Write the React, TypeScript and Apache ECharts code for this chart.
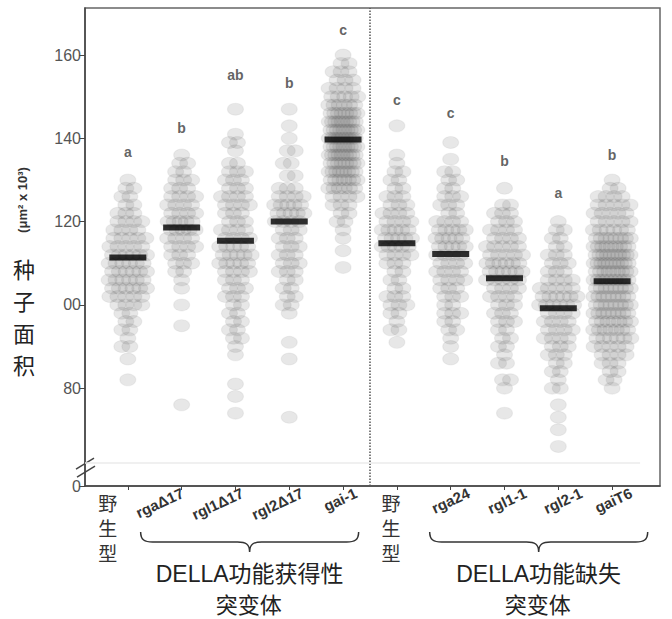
import React, { useEffect, useRef } from "react";
import * as echarts from "echarts";

// ---------- data ----------
const CATEGORIES = ["野生型", "rgaΔ17", "rgl1Δ17", "rgl2Δ17", "gai-1", "野生型", "rga24", "rgl1-1", "rgl2-1", "gaiT6"];
const MEANS = [111.4, 118.6, 115.4, 120.0, 139.7, 114.8, 112.2, 106.4, 99.2, 105.7];
const LETTERS = ["a", "b", "ab", "b", "c", "c", "c", "b", "a", "b"];
const LETTER_Y = [136.8, 142.4, 155.3, 153.4, 166, 149.3, 146, 134.6, 126.8, 136.1];
const Y_TICK_VALUES = [56.5, 80, 100, 120, 140, 160];
const Y_TICK_LABELS = ["0", "80", "00", "120", "140", "160"];
const GROUP_LEFT_TITLE = ["DELLA功能获得性", "突变体"];
const GROUP_RIGHT_TITLE = ["DELLA功能缺失", "突变体"];
const Y_TITLE_UNIT = "(μm² x 10³)";
const Y_TITLE = "种子面积";

// each row: [seed area, number of seeds at that level]
const WT_A: [number, number][] = [[130,1],[128,2],[126,2],[124,2],[122,3],[120,4],[118,4],[116,5],[114,5],[112,6],[110,6],[108,6],[106,6],[104,6],[102,5],[100,4],[98,2],[96,2],[94,2],[92,1],[90,2],[87,1],[82,1]];
const RGA_D17: [number, number][] = [[136,1],[134,2],[132,2],[130,3],[128,3],[126,4],[124,4],[122,4],[120,5],[118,5],[116,4],[114,4],[112,3],[110,3],[108,2],[106,1],[104,1],[100,1],[95,1],[76,1]];
const RGL1_D17: [number, number][] = [[147,1],[141,1],[139,2],[137,1],[134,2],[132,3],[130,3],[128,3],[126,4],[124,4],[122,3],[120,3],[118,4],[116,4],[114,5],[112,5],[110,5],[108,4],[106,3],[104,3],[102,3],[100,2],[98,2],[96,2],[94,2],[92,2],[90,1],[88,1],[81,1],[78,1],[74,1]];
const RGL2_D17: [number, number][] = [[147,1],[143,1],[140,1],[137,2],[134,2],[131,2],[128,3],[126,4],[124,5],[122,5],[120,4],[118,3],[116,3],[114,3],[112,3],[110,3],[108,3],[106,2],[104,2],[102,2],[100,2],[98,1],[91,1],[87,1],[73,1]];
const GAI_1: [number, number][] = [[160,1],[158,2],[156,3],[154,3],[152,4],[150,5],[148,6],[146,8],[144,9],[142,9],[140,9],[138,9],[136,9],[134,8],[132,8],[130,7],[128,6],[126,4],[124,3],[122,2],[120,2],[118,1],[116,1],[113,1],[109,1]];
const WT_B: [number, number][] = [[143,1],[136,1],[134,1],[132,2],[130,2],[128,2],[126,3],[124,3],[122,4],[120,4],[118,5],[116,5],[114,5],[112,4],[110,3],[108,2],[106,2],[104,2],[102,3],[100,3],[98,2],[96,1],[94,2],[91,1]];
const RGA24: [number, number][] = [[139,1],[135,1],[132,2],[130,2],[128,2],[126,3],[124,3],[122,2],[120,4],[118,5],[116,5],[114,5],[112,4],[110,4],[108,4],[106,4],[104,3],[102,3],[100,2],[98,3],[96,2],[94,2],[92,1],[90,1],[87,1]];
const RGL1_1: [number, number][] = [[128,1],[124,2],[122,3],[120,3],[118,4],[116,4],[114,5],[112,5],[110,6],[108,6],[106,5],[104,4],[102,4],[100,3],[98,3],[96,3],[94,2],[92,2],[90,2],[88,1],[86,2],[82,2],[80,1],[74,1]];
const RGL2_1: [number, number][] = [[120,1],[118,2],[116,2],[114,2],[112,3],[110,3],[108,3],[106,4],[104,5],[102,6],[100,6],[98,4],[96,4],[94,4],[92,4],[90,3],[88,3],[86,2],[84,2],[82,1],[80,2],[76,1],[73,1],[70,1],[66,1]];
const GAI_T6: [number, number][] = [[130,1],[128,2],[126,4],[124,5],[122,5],[120,5],[118,6],[116,8],[114,9],[112,10],[110,10],[108,9],[106,9],[104,8],[102,8],[100,8],[98,8],[96,7],[94,7],[92,6],[90,5],[88,4],[86,3],[84,2],[82,2],[80,1]];
const GROUPS = [WT_A, RGA_D17, RGL1_D17, RGL2_D17, GAI_1, WT_B, RGA24, RGL1_1, RGL2_1, GAI_T6];

// ---------- layout ----------
const W = 672, H = 619;
const GRID = { left: 85, right: 12, top: 8, bottom: 133 };
const X_MIN = 0.204, X_MAX = 10.89;
const Y_MIN = 56.5, Y_MAX = 171.3;
const BREAK_Y = 62;
const DIVIDER_X = 5.5;
const PX_PER_X = (W - GRID.left - GRID.right) / (X_MAX - X_MIN);
const DOT_W = 16, DOT_H = 12, DOT_STEP = 8;
const SWARM_MAX_W = [50, 40, 44, 42, 42, 42, 42, 48, 50, 50];
const LABEL_DX = [-20, 1, 7, 13, 13, -6, 18, 21, 23, 19];
const FONT = "'Liberation Sans', Arial, 'Noto Sans CJK SC', sans-serif";
const CJK = "'Noto Sans CJK SC', 'Liberation Sans', sans-serif";

const BRACE_D = "M0,0 C0,8 4,10 12,10 L97,10 C105,10 109,12 109,20 C109,12 113,10 121,10 L206,10 C214,10 218,8 218,0";
let braceRegistered = false;

function swarmPoints() {
  const pts: number[][] = [];
  GROUPS.forEach((rows, gi) => {
    const cx = gi + 1;
    rows.forEach(([v, n], r) => {
      const span = Math.min(DOT_STEP * (n - 1), SWARM_MAX_W[gi] - DOT_W);
      const step = n > 1 ? span / (n - 1) : 0;
      const shift = n > 1 ? (r % 2 === 0 ? -0.25 : 0.25) * step : 0;
      for (let k = 0; k < n; k++) {
        const offPx = (k - (n - 1) / 2) * step + shift;
        pts.push([cx + offPx / PX_PER_X, v]);
      }
    });
  });
  return pts;
}

export default function App() {
  const ref = useRef<HTMLDivElement>(null);
  useEffect(() => {
    if (!braceRegistered) {
      echarts.graphic.registerShape("brace", echarts.graphic.extendPath(BRACE_D, {}));
      braceRegistered = true;
    }
    const chart = echarts.init(ref.current!, null, { renderer: "svg" });
    chart.setOption({
      animation: false,
      grid: { ...GRID, show: true, borderColor: "#666", borderWidth: 1.5, outerBoundsMode: "none" },
      xAxis: {
        type: "value", min: X_MIN, max: X_MAX,
        splitLine: { show: false },
        axisLine: { onZero: false, lineStyle: { color: "#444", width: 1.5 } },
        axisTick: { show: true, customValues: CATEGORIES.map((_, i) => i + 1), length: 4, lineStyle: { color: "#444" } },
        axisLabel: { show: false },
      },
      yAxis: {
        type: "value", min: Y_MIN, max: Y_MAX,
        splitLine: { show: false },
        axisLine: { show: true, onZero: false, lineStyle: { color: "#444", width: 1.5 } },
        axisTick: { show: true, customValues: Y_TICK_VALUES, length: 6, lineStyle: { color: "#444" } },
        axisLabel: {
          customValues: Y_TICK_VALUES,
          formatter: (v: number) => {
            let best = 0;
            Y_TICK_VALUES.forEach((t, i) => { if (Math.abs(t - v) < Math.abs(Y_TICK_VALUES[best] - v)) best = i; });
            return Y_TICK_LABELS[best];
          },
          color: "#555", fontSize: 16, fontFamily: FONT, margin: 4,
        },
      },
      series: [
        {
          type: "scatter", silent: true, z: 2,
          symbol: "circle", symbolSize: [DOT_W, DOT_H],
          itemStyle: { color: "rgba(100,100,100,0.19)", borderColor: "rgba(90,90,90,0.1)", borderWidth: 1 },
          data: swarmPoints(),
        },
        {
          type: "scatter", silent: true, z: 5,
          symbol: "rect", symbolSize: [37, 6],
          itemStyle: { color: "#000" },
          data: MEANS.map((m, i) => [i + 1, m]),
          markLine: {
            silent: true, symbol: "none", label: { show: false },
            data: [
              { xAxis: DIVIDER_X, lineStyle: { type: [1.5, 1.5], color: "#555", width: 1.5 } },
              [
                { coord: [X_MIN, BREAK_Y], lineStyle: { type: "solid", color: "#ebebeb", width: 1.5 } },
                { coord: [10.52, BREAK_Y] },
              ],
            ],
          },
        },
        {
          type: "scatter", silent: true, z: 6,
          symbolSize: 1, itemStyle: { color: "rgba(0,0,0,0)" },
          data: LETTER_Y.map((y, i) => [i + 1, y]),
          label: {
            show: true, position: "inside",
            formatter: (p: any) => LETTERS[p.dataIndex],
            fontSize: 14, fontWeight: "bold", color: "#3a3a3a", fontFamily: FONT,
          },
        },
      ],
    });

    const px = (x: number, y: number) => chart.convertToPixel({ gridIndex: 0 }, [x, y]) as number[];
    const axisY = px(1, Y_MIN)[1];
    const graphics: any[] = [];
    CATEGORIES.forEach((name, i) => {
      const [cx] = px(i + 1, Y_MIN);
      if (name === "野生型") {
        name.split("").forEach((ch, k) => {
          graphics.push({
            type: "text", x: cx + LABEL_DX[i], y: axisY + 16 + k * 25,
            style: { text: ch, font: `19px ${CJK}`, align: "center", verticalAlign: "middle", fill: "#333" },
          });
        });
      } else {
        graphics.push({
          type: "text", x: cx + LABEL_DX[i], y: axisY + 6, rotation: (25 * Math.PI) / 180,
          style: { text: name, font: `bold 15px ${FONT}`, align: "right", verticalAlign: "middle", fill: "#333" },
        });
      }
    });
    const braceY = axisY + 46;
    const leftStart = px(2, Y_MIN)[0] - 41;
    const rightStart = px(7, Y_MIN)[0] - 21;
    [leftStart, rightStart].forEach((bx, j) => {
      graphics.push({
        type: "brace", x: bx, y: braceY,
        style: { fill: "none", stroke: "#333", lineWidth: 1.5 },
      });
      const title = j === 0 ? GROUP_LEFT_TITLE : GROUP_RIGHT_TITLE;
      graphics.push({
        type: "text", x: bx + 109, y: axisY + 88,
        style: { text: title[0], font: `23px ${FONT}`, align: "center", verticalAlign: "middle", fill: "#222" },
      });
      graphics.push({
        type: "text", x: bx + 108, y: axisY + 117,
        style: { text: title[1], font: `22px ${CJK}`, align: "center", verticalAlign: "middle", fill: "#222" },
      });
    });
    // y-axis titles
    graphics.push({
      type: "text", x: 22, y: 200, rotation: Math.PI / 2,
      style: { text: Y_TITLE_UNIT, font: `bold 13px ${FONT}`, align: "center", verticalAlign: "middle", fill: "#333" },
    });
    Y_TITLE.split("").forEach((ch, k) => {
      graphics.push({
        type: "text", x: 24, y: 268 + k * 32,
        style: { text: ch, font: `22px ${CJK}`, align: "center", verticalAlign: "middle", fill: "#222" },
      });
    });
    // axis break marks
    const bx0 = GRID.left;
    const by = px(1, BREAK_Y)[1];
    graphics.push({ type: "line", shape: { x1: bx0 - 9, y1: by + 6, x2: bx0 + 9, y2: by - 5 }, style: { stroke: "#444", lineWidth: 1.5 } });
    graphics.push({ type: "line", shape: { x1: bx0 - 8, y1: by + 14, x2: bx0 + 10, y2: by + 3 }, style: { stroke: "#444", lineWidth: 1.5 } });

    chart.setOption({ graphic: graphics });
    return () => chart.dispose();
  }, []);
  return <div ref={ref} style={{ position: "fixed", left: 0, top: 0, width: W, height: H, background: "#fff" }} />;
}
